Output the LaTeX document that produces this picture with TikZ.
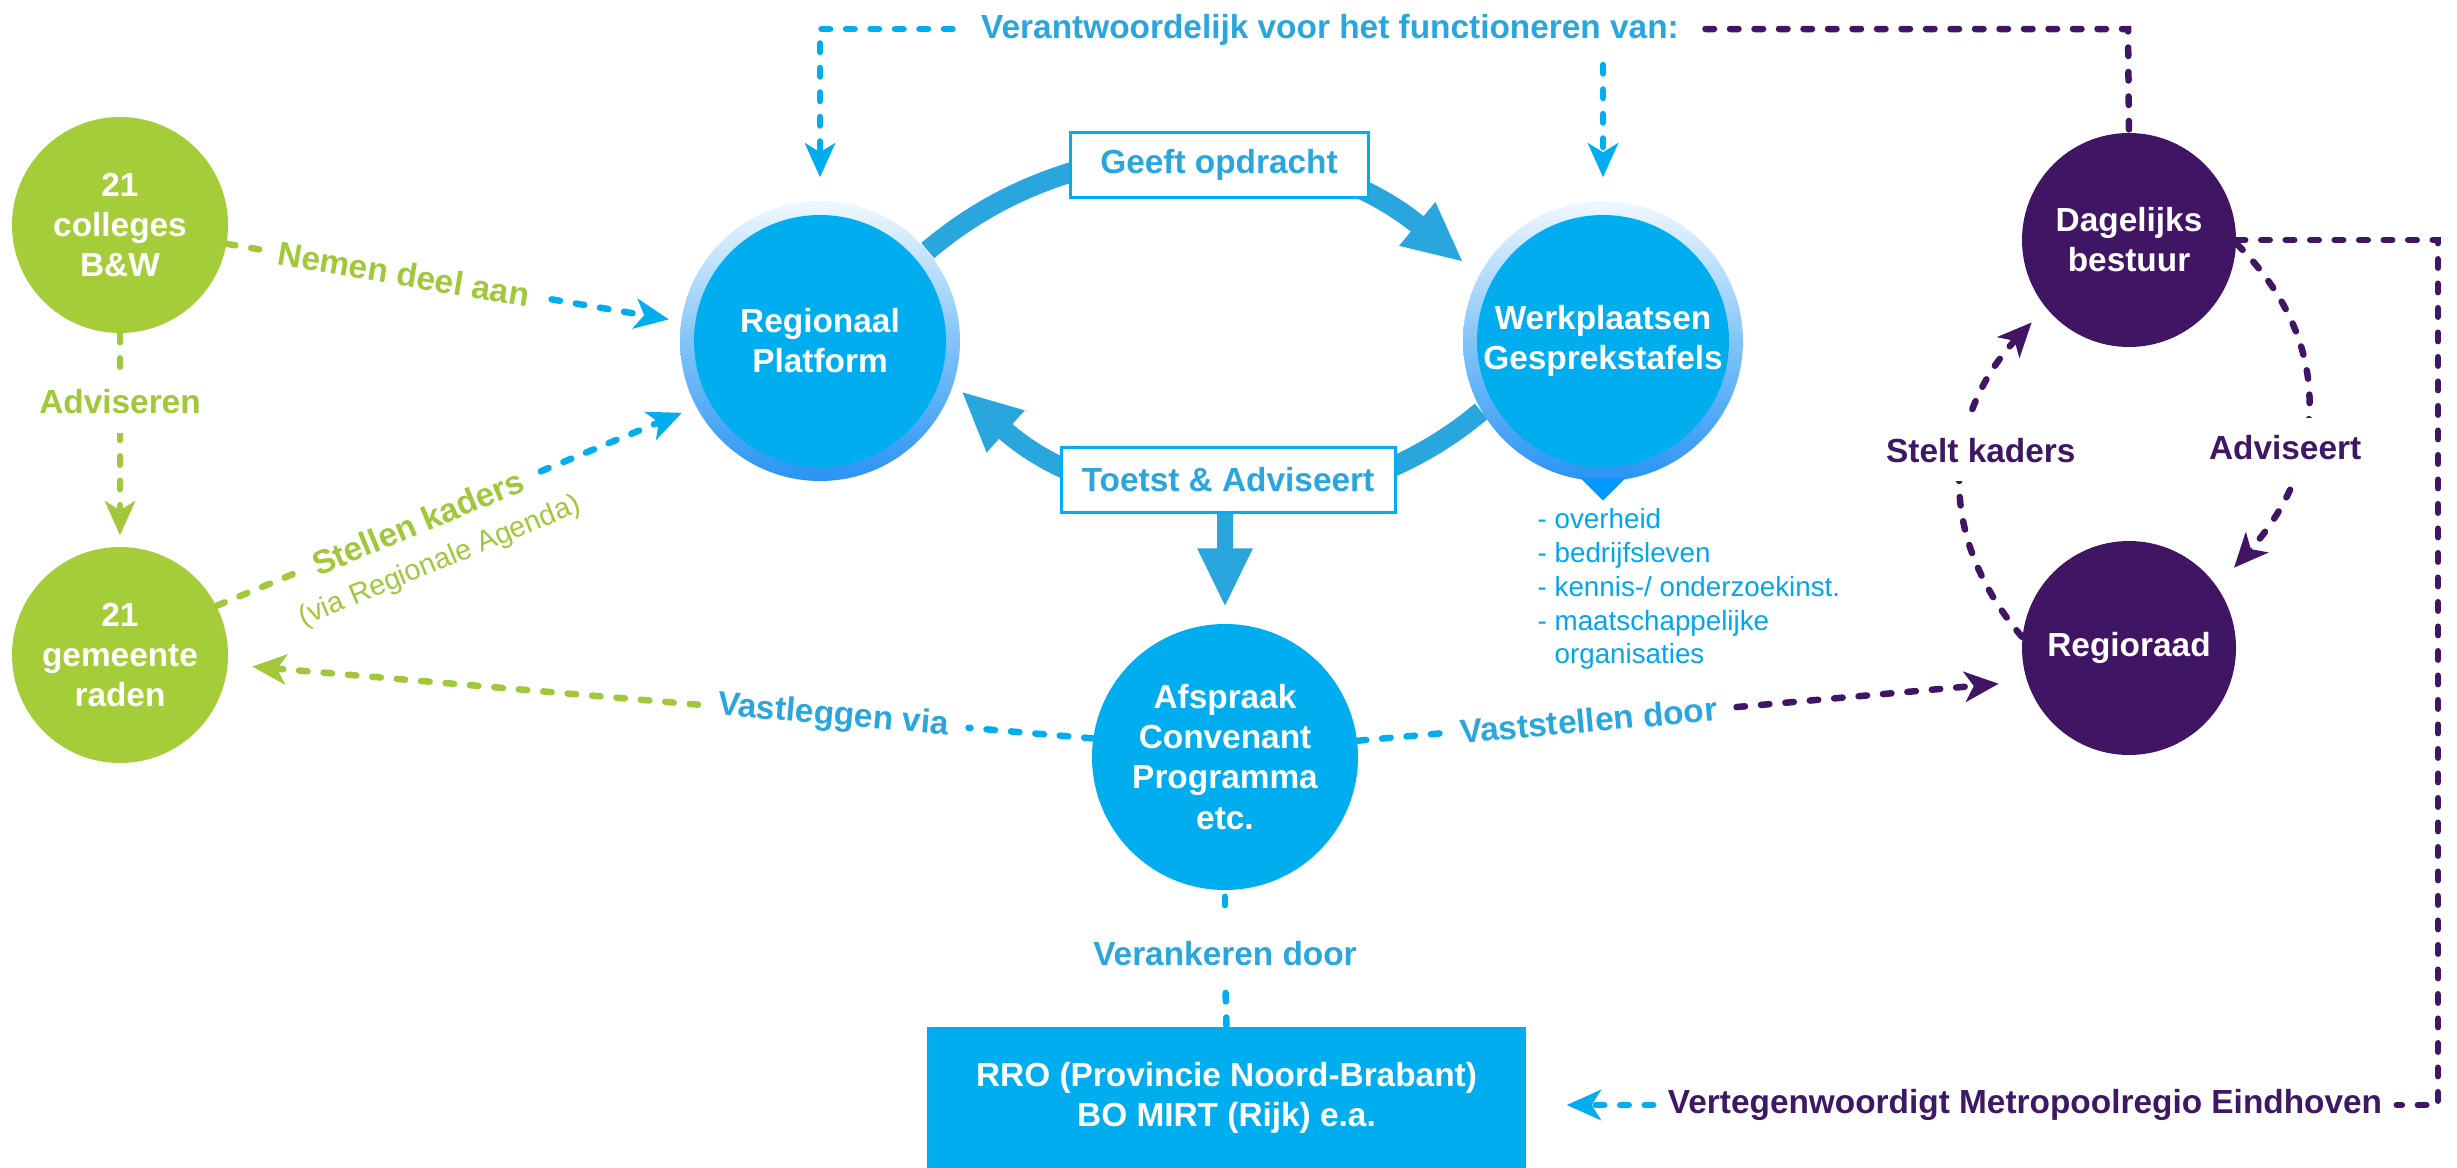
\documentclass[tikz,border=0pt]{standalone}
\usepackage{fontspec}
\setmainfont{Liberation Sans}
\usetikzlibrary{arrows.meta,calc}
\pgfdeclarelayer{bg}
\pgfsetlayers{bg,main}
\definecolor{gC}{RGB}{165,205,57}
\definecolor{gT}{RGB}{160,200,58}
\definecolor{cC}{RGB}{0,174,239}
\definecolor{cT}{RGB}{42,166,222}
\definecolor{pC}{RGB}{64,21,99}
\definecolor{pT}{RGB}{62,24,100}
\definecolor{ptrC}{RGB}{0,153,255}
\definecolor{ringT}{RGB}{240,248,254}
\definecolor{ringM}{RGB}{130,196,248}
\definecolor{ringB}{RGB}{40,148,244}
\definecolor{listC}{RGB}{0,166,238}
\newcommand\lblfont{\fontsize{9.5}{11.4}\selectfont\bfseries}
\newcommand\smlfont{\fontsize{8.2}{10}\selectfont}
\begin{document}
\begin{tikzpicture}[x=0.1mm,y=-0.1mm,
  base/.style={line width=0.65mm, line cap=round, dash pattern=on 0.85mm off 1.6mm},
  gdash/.style={base, draw=gT},
  cdash/.style={base, draw=cC},
  pdash/.style={base, draw=pC},
  dtip/.style={-{Stealth[length=3.4mm,width=3mm,inset=0.9mm]}},
  gcirc/.style={circle, fill=gC, minimum size=21.6mm, inner sep=0, text=white, font=\lblfont, align=center},
  pcirc/.style={circle, fill=pC, minimum size=21.4mm, inner sep=0, text=white, font=\lblfont, align=center},
  ccirc/.style={circle, fill=cC, minimum size=26.6mm, inner sep=0, text=white, font=\lblfont, align=center},
  glow/.style={circle, minimum size=28mm, inner sep=0, top color=ringT, bottom color=ringB, middle color=ringM,
    path picture={\fill[cC] (path picture bounding box.center) circle (12.6mm);},
    text=white, font=\lblfont, align=center},
  lbox/.style={draw=cC, line width=0.3mm, fill=white, text=cT, font=\lblfont, minimum height=6.5mm, inner sep=0},
  lbl/.style={font=\lblfont, inner sep=0.4mm},
  bigarc/.style={draw=cT, line width=2mm, -{Triangle[length=6mm,width=5.2mm]}}
]
\useasboundingbox (0,0) rectangle (2457,1168);

% main nodes
\node[gcirc] (A) at (120,225) {21\\colleges\\B\&W};
\node[gcirc] (B) at (120,655) {21\\gemeente\\raden};
\node[glow] (RP) at (820,341) {Regionaal\\Platform};
\node[glow] (WG) at (1603,341) {Werkplaatsen\\Gesprekstafels};
\node[ccirc] (AF) at (1225,757) {Afspraak\\Convenant\\Programma\\etc.};
\node[pcirc] (DB) at (2129,240) {Dagelijks\\bestuur};
\node[pcirc] (RR) at (2129,648) {Regioraad};
\node[lbox, minimum width=29.8mm] (GO) at (1219,165) {Geeft opdracht};
\node[lbox, minimum width=33.4mm] (TA) at (1228,480) {Toetst \& Adviseert};
\node[fill=cC, minimum width=59.9mm, minimum height=14.1mm, inner sep=0, text=white, font=\lblfont, align=center] (RRO) at (1226.5,1097.5) {RRO (Provincie Noord-Brabant)\\BO MIRT (Rijk) e.a.};

% pointer under Werkplaatsen
\fill[ptrC] ($(WG.south)+(-22,-3)$) -- ($(WG.south)+(22,-3)$) -- ($(WG.south)+(0,19)$) -- cycle;
\node[font=\fontsize{7.9}{9.6}\selectfont, text=listC, align=left, anchor=north west, inner sep=0] (LST) at (1537,508)
  {- overheid\\- bedrijfsleven\\- kennis-/ onderzoekinst.\\- maatschappelijke\\\phantom{-}\ organisaties};

% big cycle arcs
\begin{pgfonlayer}{bg}
\draw[bigarc, shorten >=2mm] (RP.40) .. controls +(156,-133) and +(-170,-141) .. (WG.152);
\draw[bigarc, shorten >=1mm] (WG.210) .. controls +(-153,129) and +(148,134) .. (RP.-18);
\end{pgfonlayer}
\draw[draw=cT, line width=1.6mm, -{Triangle[length=5.9mm,width=5.1mm]}, shorten >=1.6mm] (TA.south -| AF.north) -- (AF.north);

% top line
\node[lbl, text=cT, anchor=base] (TOP) at (1330,39) {Verantwoordelijk voor het functioneren van:};
\coordinate (c1) at (820,29);
\coordinate (c2) at (2128,29);
\coordinate (c3) at (1603,65);
\draw[cdash, dtip, shorten <=2.4mm, shorten >=2.3mm] (TOP.west |- c1) -- (c1) -- (RP.north);
\draw[cdash, dtip, shorten >=2.3mm] (c3) -- (WG.north);
\draw[pdash, shorten <=2.2mm] (TOP.east |- c2) -- (c2) -- (DB.north);

% right loop to RRO
\coordinate (c4) at (2438,240);
\coordinate (c5) at (2438,1105);
\node[lbl, text=pT] (VM) at (2025,1105) {Vertegenwoordigt Metropoolregio Eindhoven};
\draw[pdash, shorten >=1mm] (DB.east) -- (c4) -- (c5) -- (VM.east);
\draw[cdash, dtip, shorten <=1mm, shorten >=4mm] (VM.west) -- (VM.west -| RRO.east);

% Adviseren
\draw[gdash, dtip, shorten >=1.1mm] (A.south) -- node[lbl, text=gT, fill=white, inner xsep=0.4mm, inner ysep=1.9mm, pos=0.32] (ADV) {Adviseren} (B.north);

% Nemen deel aan
\path (A.-10) -- (RP.172) node[lbl, text=gT, sloped, pos=0.39] (NDA) {Nemen deel aan};
\draw[gdash, shorten >=1.5mm] (A.-10) -- (NDA.west);
\draw[cdash, dtip, shorten <=1.8mm, shorten >=1.2mm] (NDA.east) -- (RP.172);

% Stellen kaders
\path (B.27) -- (RP.208)
  node[lbl, text=gT, sloped, pos=0.42] (SK) {Stellen kaders}
  node[font=\smlfont, text=gT, sloped, pos=0.43, below=2.9mm, inner sep=0.2mm] (VRA) {(via Regionale Agenda)};
\draw[gdash, shorten >=1.5mm] (B.27) -- (SK.west);
\draw[cdash, dtip, shorten <=1.5mm, shorten >=1.5mm] (SK.east) -- (RP.208);

% Vastleggen via
\path (AF.172) -- (B.-5) node[lbl, text=cT, sloped, pos=0.30] (VLV) {Vastleggen via};
\draw[cdash, shorten >=1.5mm] (AF.172) -- (VLV.east);
\draw[gdash, dtip, shorten <=1.5mm, shorten >=2.4mm] (VLV.west) -- (B.-5);

% Vaststellen door
\path (AF.7) -- (RR.198) node[lbl, text=cT, sloped, pos=0.345] (VSD) {Vaststellen door};
\draw[cdash, shorten >=1.5mm] (AF.7) -- (VSD.west);
\draw[pdash, dtip, shorten <=1.5mm, shorten >=2.8mm] (VSD.east) -- (RR.198);

% Verankeren door
\node[lbl, text=cT] (VKD) at (1225,954) {Verankeren door};
\draw[cdash, shorten <=0.6mm, shorten >=1.8mm] (AF.south) -- (VKD.north);
\draw[cdash, shorten <=2.2mm] (VKD.south) -- (RRO.north);

% purple loop
\draw[pdash, dtip, shorten >=2.5mm] (DB.-2) .. controls +(107.5,107.5) and +(102,-112.5) .. (RR.35)
  node[pos=0.6, lbl, text=pT, fill=white, inner ysep=1.8mm, xshift=-1.4mm] (ADVT) {Adviseert};
\draw[pdash, dtip, shorten >=2mm] (RR.174) .. controls +(-92,-108) and +(-96.6,103.7) .. (DB.219)
  node[pos=0.56, lbl, text=pT, fill=white, inner ysep=1.8mm, xshift=1.5mm] (SKT) {Stelt kaders};
\end{tikzpicture}
\end{document}
